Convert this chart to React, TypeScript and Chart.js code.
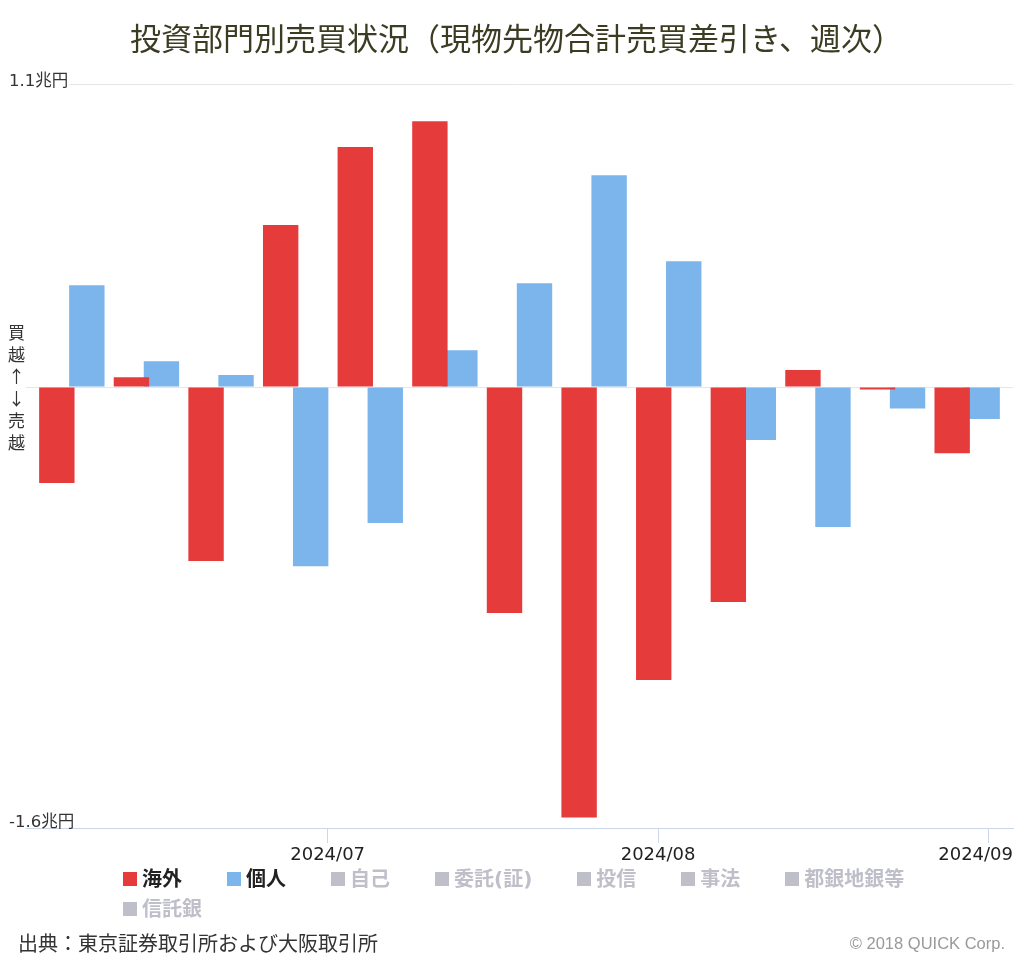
import React, { useEffect, useRef } from 'react';
import { Chart, registerables } from 'chart.js';

Chart.register(...registerables);

const chartTitle = '投資部門別売買状況（現物先物合計売買差引き、週次）';
const weekDates = [
  '2024-06-07', '2024-06-14', '2024-06-21', '2024-06-28', '2024-07-05',
  '2024-07-12', '2024-07-19', '2024-07-26', '2024-08-02', '2024-08-09',
  '2024-08-16', '2024-08-23', '2024-08-30',
];
// 兆円
const foreignValues = [-0.348, 0.036, -0.631, 0.588, 0.871, 0.965, -0.82, -1.562, -1.063, -0.78, 0.062, -0.009, -0.24];
const individualValues = [0.37, 0.094, 0.044, -0.65, -0.493, 0.134, 0.377, 0.769, 0.457, -0.192, -0.508, -0.078, -0.116];

const monthTickDates = ['2024-07-01', '2024-08-01', '2024-09-01'];
const monthTickLabels = ['2024/07', '2024/08', '2024/09'];
const yTickValues = [-1.6, 0, 1.1];
const yTickLabels = ['-1.6兆円', '', '1.1兆円'];
const sideLabelChars = ['買', '越', '↑', '↓', '売', '越'];

const seriesNames = ['海外', '個人', '自己', '委託(証)', '投信', '事法', '都銀地銀等', '信託銀'];
const seriesVisible = [true, true, false, false, false, false, false, false];
const seriesColors = ['#e63b3b', '#7cb5ec'];
const hiddenColor = '#bfbfca';

const sourceText = '出典：東京証券取引所および大阪取引所';
const creditText = '© 2018 QUICK Corp.';

const toDay = (s: string) => {
  const [y, m, d] = s.split('-').map(Number);
  return Date.UTC(y, m - 1, d) / 86400000;
};

const W = 1024;
const H = 964;

export default function App() {
  const canvasRef = useRef<HTMLCanvasElement | null>(null);

  useEffect(() => {
    if (!canvasRef.current) return;
    const days = weekDates.map(toDay);
    const monthDays = monthTickDates.map(toDay);

    const textPlugin = {
      id: 'textPlugin',
      afterDraw(chart: any) {
        const ctx = chart.ctx;
        const xs = chart.scales.x;
        const ys = chart.scales.y;
        const area = chart.chartArea;
        ctx.save();
        // y labels
        ctx.font = '16.5px "DejaVu Sans", "Noto Sans CJK JP"';
        ctx.fillStyle = '#333333';
        ctx.textAlign = 'left';
        ctx.textBaseline = 'alphabetic';
        yTickValues.forEach((v, i) => {
          const label = yTickLabels[i];
          if (!label) return;
          const py = ys.getPixelForValue(v);
          const isTop = v === ys.max;
          if (isTop) {
            const w = ctx.measureText(label).width;
            ctx.fillStyle = '#ffffff';
            ctx.fillRect(area.left, py - 2, w + 9 - area.left + 1, 4);
            ctx.fillStyle = '#333333';
          }
          ctx.fillText(label, 9, isTop ? py + 2 : py - 1);
        });
        // side label
        const zero = ys.getPixelForValue(0);
        ctx.textAlign = 'center';
        ctx.textBaseline = 'middle';
        ctx.font = '17px "Noto Sans CJK JP"';
        const lh = 22;
        sideLabelChars.forEach((c, i) => {
          ctx.fillText(c, 16.5, zero + (i - (sideLabelChars.length - 1) / 2) * lh);
        });
        // x labels
        ctx.font = '18px "DejaVu Sans"';
        ctx.fillStyle = '#222222';
        ctx.textBaseline = 'alphabetic';
        monthDays.forEach((d, i) => {
          const label = monthTickLabels[i];
          const w = ctx.measureText(label).width;
          let px = xs.getPixelForValue(d);
          if (px + w / 2 > area.right) px = area.right - w / 2;
          if (px - w / 2 < area.left) px = area.left + w / 2;
          ctx.fillText(label, px, 860);
        });
        ctx.restore();
      },
    };

    const chart = new Chart(canvasRef.current, {
      type: 'bar',
      data: {
        datasets: [
          {
            label: seriesNames[0],
            data: days.map((d, i) => ({ x: d, y: foreignValues[i] })),
            backgroundColor: seriesColors[0],
            borderWidth: 0,
            categoryPercentage: 0.804,
            barPercentage: 1.18,
          },
          {
            label: seriesNames[1],
            data: days.map((d, i) => ({ x: d, y: individualValues[i] })),
            backgroundColor: seriesColors[1],
            borderWidth: 0,
            categoryPercentage: 0.804,
            barPercentage: 1.18,
          },
        ],
      },
      options: {
        responsive: false,
        animation: false,
        events: [],
        layout: { padding: { left: 26, right: 11, top: 84, bottom: 121 } },
        plugins: {
          legend: { display: false },
          title: { display: false },
          tooltip: { enabled: false },
        },
        scales: {
          x: {
            type: 'linear',
            min: days[0] - 4.3,
            max: days[days.length - 1] + 4.3,
            offset: false,
            afterBuildTicks: (axis: any) => {
              axis.ticks = monthDays.map((v) => ({ value: v }));
            },
            ticks: { display: false },
            grid: {
              display: true,
              drawOnChartArea: false,
              drawTicks: true,
              tickLength: 15,
              color: '#ccd6eb',
              offset: false,
            },
            border: { display: true, color: '#ccd6eb' },
          },
          y: {
            type: 'linear',
            min: yTickValues[0],
            max: yTickValues[yTickValues.length - 1],
            afterBuildTicks: (axis: any) => {
              axis.ticks = yTickValues.map((v) => ({ value: v }));
            },
            ticks: { display: false },
            grid: {
              drawTicks: false,
              color: (c: any) => (c.tick && c.tick.value === yTickValues[0] ? '#ccd6eb' : '#e6e6e6'),
            },
            border: { display: false },
          },
        },
      } as any,
      plugins: [textPlugin],
    });
    return () => chart.destroy();
  }, []);

  return (
    <div style={{ position: 'absolute', left: 0, top: 0, width: W, height: H, background: '#ffffff', overflow: 'hidden' }}>
      <canvas ref={canvasRef} width={W} height={H} style={{ position: 'absolute', left: 0, top: 0, width: W, height: H }} />
      <div
        style={{
          position: 'absolute', left: 0, top: 21, width: 1033, textAlign: 'center',
          font: '31px "Noto Sans CJK JP"', lineHeight: '31px', color: '#3c3c23', whiteSpace: 'nowrap',
        }}
      >
        {chartTitle}
      </div>
      <div
        style={{
          position: 'absolute', left: 123, top: 868, width: 800, display: 'flex', flexWrap: 'wrap',
          columnGap: 45, rowGap: 8,
        }}
      >
        {seriesNames.map((name, i) => {
          const col = seriesVisible[i] ? seriesColors[i] : hiddenColor;
          return (
            <div key={name} style={{ display: 'flex', alignItems: 'center', height: 22 }}>
              <span style={{ display: 'inline-block', width: 14, height: 14, background: col, marginRight: 5 }} />
              <span
                style={{
                  font: 'bold 20px "DejaVu Sans", "Noto Sans CJK JP"', lineHeight: '22px',
                  color: seriesVisible[i] ? '#222222' : hiddenColor, whiteSpace: 'nowrap',
                }}
              >
                {name}
              </span>
            </div>
          );
        })}
      </div>
      <div
        style={{
          position: 'absolute', left: 18, top: 933, font: '20px "Noto Sans CJK JP"', lineHeight: '20px',
          color: '#333333', whiteSpace: 'nowrap',
        }}
      >
        {sourceText}
      </div>
      <div
        style={{
          position: 'absolute', right: 19, top: 934, font: '16.5px "Liberation Sans"', lineHeight: '18px',
          color: '#999999', whiteSpace: 'nowrap',
        }}
      >
        {creditText}
      </div>
    </div>
  );
}
